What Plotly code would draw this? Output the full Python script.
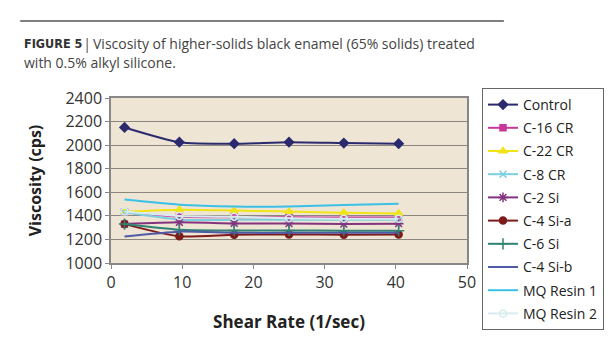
import plotly.graph_objects as go

shear_rate = [1.9, 9.6, 17.3, 25.0, 32.7, 40.4]

control = [2150, 2025, 2012, 2025, 2018, 2012]
c16_cr = [1430, 1392, 1388, 1388, 1385, 1385]
c22_cr = [1435, 1452, 1445, 1436, 1426, 1420]
c8_cr = [1430, 1368, 1366, 1366, 1366, 1366]
c2_si = [1330, 1345, 1336, 1335, 1330, 1334]
c4_si_a = [1330, 1226, 1240, 1242, 1240, 1242]
c6_si = [1330, 1282, 1276, 1276, 1274, 1274]
c4_si_b = [1225, 1266, 1256, 1256, 1256, 1257]
mq_resin1 = [1538, 1495, 1479, 1479, 1493, 1503]
mq_resin2 = [1436, 1398, 1392, 1380, 1376, 1376]

y_ticks = [1000, 1200, 1400, 1600, 1800, 2000, 2200, 2400]
x_ticks = [0, 10, 20, 30, 40, 50]

series = [
    ("Control", control, "#2B2A6E", "diamond", 7),
    ("C-16 CR", c16_cr, "#C8389A", "square", 6),
    ("C-22 CR", c22_cr, "#F0E418", "triangle-up", 7),
    ("C-8 CR", c8_cr, "#7CCFE0", "x-thin", 7),
    ("C-2 Si", c2_si, "#84337F", "asterisk", 8),
    ("C-4 Si-a", c4_si_a, "#7E1B1B", "circle", 7),
    ("C-6 Si", c6_si, "#2F8474", "cross-thin", 8),
    ("C-4 Si-b", c4_si_b, "#4F5BA6", None, 0),
    ("MQ Resin 1", mq_resin1, "#3CC0E6", None, 0),
    ("MQ Resin 2", mq_resin2, "#D8EBEE", "circle-open", 7),
]

fig = go.Figure()
for i, (name, vals, color, sym, size) in enumerate(series):
    if sym:
        marker = dict(symbol=sym, size=size, color=color,
                      line=dict(color=color, width=1.5))
        mode = "lines+markers"
    else:
        marker = dict(size=1, color=color)
        mode = "lines"
    fig.add_trace(go.Scatter(
        x=shear_rate, y=vals, name=name, mode=mode,
        line=dict(color=color, width=2, shape="spline", smoothing=0.6),
        marker=marker, legendgroup=f"g{i}",
    ))

axis_font = dict(family="Open Sans, Arial", size=16, color="#333333")

fig.update_layout(
    width=615, height=350,
    margin=dict(l=111, r=147, t=98, b=87),
    paper_bgcolor="white",
    plot_bgcolor="#EEE5D5",
    font=dict(family="Open Sans, Arial", color="#333333"),
    showlegend=True,
    legend=dict(
        x=(482 - 111) / 357, y=(263 - 88) / 165, xanchor="left", yanchor="top",
        bordercolor="#666666", borderwidth=1, bgcolor="white",
        font=dict(family="Open Sans, Arial", size=14, color="#222222"),
        tracegroupgap=2, traceorder="grouped",
        itemwidth=30, maxheight=320,
    ),
    xaxis=dict(
        range=[0, 50], tickvals=x_ticks, ticks="outside", ticklen=4,
        tickcolor="#888888", showgrid=False, zeroline=False,
        showline=True, linecolor="#888888", linewidth=1.5, mirror=True,
        tickfont=axis_font,
        title=dict(text="<b>Shear Rate (1/sec)</b>", standoff=24,
                   font=dict(family="Open Sans, Arial", size=17, color="#222222")),
    ),
    yaxis=dict(
        range=[1000, 2400], tickvals=y_ticks, ticks="outside", ticklen=4,
        tickcolor="#888888", showgrid=True, gridcolor="#8C877E", gridwidth=1,
        zeroline=False, showline=True, linecolor="#888888", linewidth=1.5,
        mirror=True, tickfont=axis_font,
        title=dict(text="<b>Viscosity (cps)</b>", standoff=20,
                   font=dict(family="Open Sans, Arial", size=16, color="#222222")),
    ),
    shapes=[dict(type="line", xref="paper", yref="paper",
                 x0=(20 - 111) / 357, x1=(505 - 111) / 357,
                 y0=(263 - 21) / 165, y1=(263 - 21) / 165,
                 line=dict(color="#555555", width=1.5))],
    annotations=[
        dict(xref="paper", yref="paper",
             x=(22 - 111) / 357, y=(263 - 43) / 165,
             xanchor="left", yanchor="middle", showarrow=False,
             text="<b>FIGURE 5</b>",
             font=dict(family="DejaVu Sans Condensed, Liberation Sans Narrow, Open Sans", size=12.5, color="#333333")),
        dict(xref="paper", yref="paper",
             x=(81 - 111) / 357, y=(263 - 43) / 165,
             xanchor="left", yanchor="middle", showarrow=False,
             text="|",
             font=dict(family="Open Sans, Arial", size=15, color="#555555")),
        dict(xref="paper", yref="paper",
             x=(91 - 111) / 357, y=(263 - 43) / 165,
             xanchor="left", yanchor="middle", showarrow=False,
             text="Viscosity of higher-solids black enamel (65% solids) treated",
             font=dict(family="Open Sans, Arial", size=14, color="#444444")),
        dict(xref="paper", yref="paper",
             x=(22 - 111) / 357, y=(263 - 63) / 165,
             xanchor="left", yanchor="middle", showarrow=False,
             text="with 0.5% alkyl silicone.",
             font=dict(family="Open Sans, Arial", size=14, color="#444444")),
    ],
)

fig.write_html("out.html")
